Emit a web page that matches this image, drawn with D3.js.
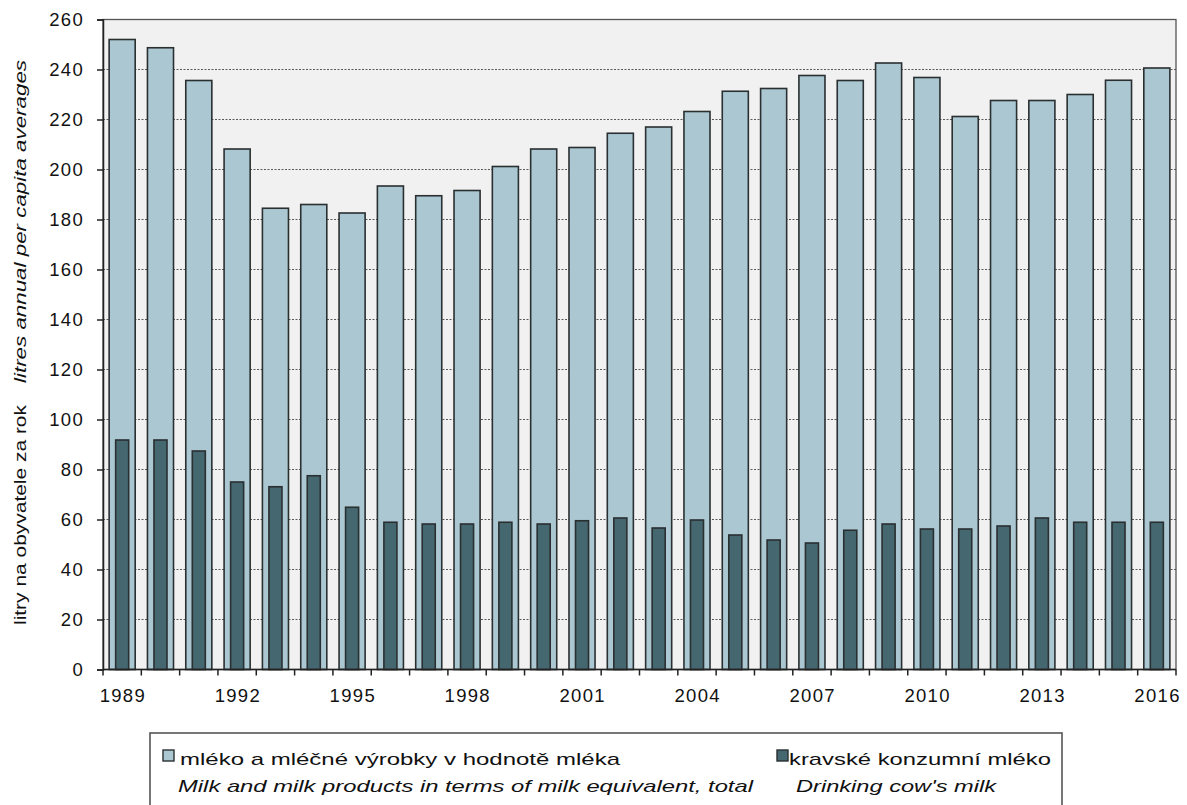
<!DOCTYPE html>
<html>
<head>
<meta charset="utf-8">
<script src="https://cdn.jsdelivr.net/npm/d3@7"></script>
<style>
  html, body { margin: 0; padding: 0; background: #ffffff; }
  svg { display: block; font-family: "Liberation Sans", Arial, sans-serif; }
</style>
</head>
<body>
<svg id="chart" width="1187" height="805"></svg>
<script>
// Years on the category axis
const years = [1989, 1990, 1991, 1992, 1993, 1994, 1995, 1996, 1997, 1998,
               1999, 2000, 2001, 2002, 2003, 2004, 2005, 2006, 2007, 2008,
               2009, 2010, 2011, 2012, 2013, 2014, 2015, 2016];

// Milk and milk products in terms of milk equivalent, total (litres per capita)
const milkTotal = [252.0, 248.7, 235.6, 208.2, 184.5, 186.0, 182.6, 193.4, 189.5, 191.6,
                   201.2, 208.2, 208.8, 214.5, 217.0, 223.2, 231.3, 232.4, 237.6, 235.6,
                   242.6, 236.8, 221.2, 227.6, 227.6, 230.0, 235.7, 240.6];

// Drinking cow's milk (litres per capita)
const drinkingMilk = [91.8, 91.8, 87.4, 75.0, 73.1, 77.5, 64.9, 58.9, 58.2, 58.2,
                      58.9, 58.2, 59.5, 60.6, 56.6, 59.8, 53.8, 51.8, 50.6, 55.7,
                      58.2, 56.2, 56.2, 57.4, 60.6, 58.9, 58.9, 58.9];

// Labelled years and value ticks
const xTickYears = [1989, 1992, 1995, 1998, 2001, 2004, 2007, 2010, 2013, 2016];
const yTicks = [0, 20, 40, 60, 80, 100, 120, 140, 160, 180, 200, 220, 240, 260];

// Legend texts
const seriesNamesCz = ["mléko a mléčné výrobky v hodnotě mléka", "kravské konzumní mléko"];
const seriesNamesEn = ["Milk and milk products in terms of milk equivalent, total", "Drinking cow's milk"];

// Axis titles
const yTitleCz = "litry na obyvatele za rok";
const yTitleEn = "litres annual per capita averages";

const colLight = "#abc8d2";
const colDark = "#45676f";
const colEdge = "#2a2f31";

const svg = d3.select("#chart");
const plot = { left: 103, right: 1176, top: 19.5, bottom: 669.5 };

const x = d3.scaleBand().domain(years).range([plot.left, plot.right]).paddingInner(0.32).paddingOuter(0.16);
const y = d3.scaleLinear().domain([0, 260]).range([plot.bottom, plot.top]);

// plot background
svg.append("rect")
  .attr("x", plot.left).attr("y", plot.top)
  .attr("width", plot.right - plot.left).attr("height", plot.bottom - plot.top)
  .attr("fill", "#f1f1f1");

// dotted gridlines
svg.append("g").selectAll("line")
  .data(yTicks.filter(d => d > 0 && d < 260))
  .join("line")
  .attr("x1", plot.left).attr("x2", plot.right)
  .attr("y1", d => y(d)).attr("y2", d => y(d))
  .attr("stroke", "#5a5a5a").attr("stroke-width", 1.2)
  .attr("stroke-dasharray", "2,1.5");

// total bars
const data = years.map((yr, i) => ({ year: yr, total: milkTotal[i], drinking: drinkingMilk[i] }));
svg.append("g").selectAll("rect")
  .data(data)
  .join("rect")
  .attr("x", d => x(d.year))
  .attr("width", x.bandwidth())
  .attr("y", d => y(d.total))
  .attr("height", d => y(0) - y(d.total))
  .attr("fill", colLight)
  .attr("stroke", colEdge).attr("stroke-width", 1.6);

// drinking milk bars, narrower, drawn over the totals
const inner = x.bandwidth() * 0.5;
svg.append("g").selectAll("rect")
  .data(data)
  .join("rect")
  .attr("x", d => x(d.year) + (x.bandwidth() - inner) / 2)
  .attr("width", inner)
  .attr("y", d => y(d.drinking))
  .attr("height", d => y(0) - y(d.drinking))
  .attr("fill", colDark)
  .attr("stroke", colEdge).attr("stroke-width", 1.6);

// plot frame
svg.append("rect")
  .attr("x", plot.left).attr("y", plot.top)
  .attr("width", plot.right - plot.left).attr("height", plot.bottom - plot.top)
  .attr("fill", "none").attr("stroke", "#555").attr("stroke-width", 1.3);

// y axis
const yAxis = svg.append("g")
  .attr("transform", `translate(${plot.left},0)`)
  .call(d3.axisLeft(y).tickValues(yTicks).tickSize(6).tickPadding(13));
yAxis.select(".domain").attr("stroke", "#222").attr("stroke-width", 1.5);
yAxis.selectAll(".tick line").attr("stroke", "#222").attr("stroke-width", 1.5);
yAxis.selectAll(".tick text")
  .attr("font-family", "Liberation Sans, Arial, sans-serif")
  .attr("font-size", 18.5).attr("fill", "#111")
  .style("letter-spacing", "1.3px");

// x axis: ticks on band boundaries, labels every third year
const xAxisG = svg.append("g").attr("transform", `translate(0,${plot.bottom})`);
xAxisG.append("line")
  .attr("x1", plot.left).attr("x2", plot.right)
  .attr("stroke", "#222").attr("stroke-width", 1.6);
const step = x.step();
const boundaries = years.map((yr, i) => x(yr) - x.paddingInner() * step / 2).concat([plot.right]);
xAxisG.selectAll("line.tk")
  .data(boundaries)
  .join("line").attr("class", "tk")
  .attr("x1", d => d).attr("x2", d => d)
  .attr("y1", 0).attr("y2", 6)
  .attr("stroke", "#222").attr("stroke-width", 1.5);
xAxisG.selectAll("text")
  .data(xTickYears)
  .join("text")
  .attr("x", d => x(d) + x.bandwidth() / 2 + 0.7)
  .attr("y", 32)
  .attr("text-anchor", "middle")
  .attr("font-size", 18.5).attr("fill", "#111")
  .style("letter-spacing", "1.3px")
  .text(d => d);

// rotated axis titles
svg.append("text")
  .attr("transform", "translate(26,625) rotate(-90)")
  .attr("font-size", 17).attr("fill", "#111")
  .attr("textLength", 220).attr("lengthAdjust", "spacingAndGlyphs")
  .text(yTitleCz);
svg.append("text")
  .attr("transform", "translate(26,383) rotate(-90)")
  .attr("font-size", 17).attr("font-style", "italic").attr("fill", "#111")
  .attr("textLength", 323).attr("lengthAdjust", "spacingAndGlyphs")
  .text(yTitleEn);

// legend
const legend = svg.append("g");
legend.append("rect")
  .attr("x", 150).attr("y", 733).attr("width", 912).attr("height", 120)
  .attr("fill", "#ffffff").attr("stroke", "#555").attr("stroke-width", 1.6);

const legendItems = [
  { fill: colLight, sx: 163, tx: 180, tw: 440, ex: 178, ew: 575 },
  { fill: colDark, sx: 777, tx: 789, tw: 262, ex: 796, ew: 200 }
];
legendItems.forEach((it, i) => {
  legend.append("rect")
    .attr("x", it.sx).attr("y", 750).attr("width", 11).attr("height", 11)
    .attr("fill", it.fill).attr("stroke", colEdge).attr("stroke-width", 1.4);
  legend.append("text")
    .attr("x", it.tx).attr("y", 765)
    .attr("font-size", 17).attr("fill", "#111")
    .attr("textLength", it.tw).attr("lengthAdjust", "spacingAndGlyphs")
    .text(seriesNamesCz[i]);
  legend.append("text")
    .attr("x", it.ex).attr("y", 792)
    .attr("font-size", 17).attr("font-style", "italic").attr("fill", "#111")
    .attr("textLength", it.ew).attr("lengthAdjust", "spacingAndGlyphs")
    .text(seriesNamesEn[i]);
});
</script>
</body>
</html>
